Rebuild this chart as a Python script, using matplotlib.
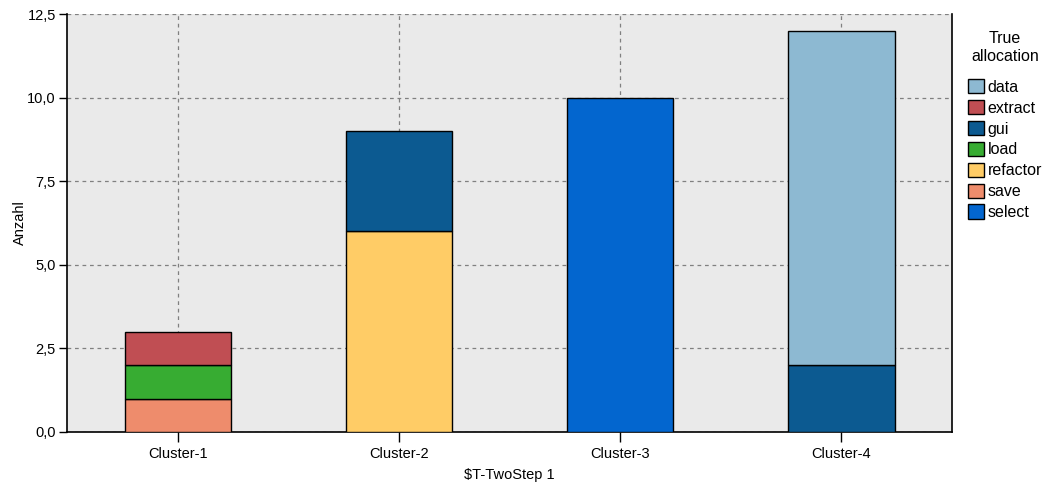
import matplotlib
matplotlib.use("Agg")
import matplotlib.pyplot as plt
from matplotlib.patches import Patch
from matplotlib.ticker import FixedLocator, FuncFormatter
import numpy as np

plt.rcParams['font.family'] = ['Liberation Sans', 'DejaVu Sans']

clusters = ["Cluster-1", "Cluster-2", "Cluster-3", "Cluster-4"]
allocations = ["data", "extract", "gui", "load", "refactor", "save", "select"]
colors = {
    "data": "#8DB9D2",
    "extract": "#C04E53",
    "gui": "#0C5A91",
    "load": "#37AC32",
    "refactor": "#FFCC66",
    "save": "#EE8C6C",
    "select": "#0366CF",
}
counts = {
    "data":     [0, 0, 0, 10],
    "extract":  [1, 0, 0, 0],
    "gui":      [0, 3, 0, 2],
    "load":     [1, 0, 0, 0],
    "refactor": [0, 6, 0, 0],
    "save":     [1, 0, 0, 0],
    "select":   [0, 0, 10, 0],
}
y_ticks = [0.0, 2.5, 5.0, 7.5, 10.0, 12.5]

fig = plt.figure(figsize=(10.5, 4.83), dpi=100)
ax = fig.add_axes([0.0638, 0.1056, 0.8429, 0.8654])
ax.set_facecolor("#EAEAEA")

x = np.arange(len(clusters))
bottom = np.zeros(len(clusters))
# stack from the last category upward
for name in reversed(allocations):
    vals = np.array(counts[name], dtype=float)
    mask = vals > 0
    ax.bar(x[mask], vals[mask], width=0.48, bottom=bottom[mask],
           color=colors[name], edgecolor="black", linewidth=1.0, zorder=3)
    bottom += vals

ax.set_xlim(-0.5, 3.5)
ax.set_ylim(0, 12.5)
ax.set_xticks(x)
ax.set_xticklabels(clusters)
ax.yaxis.set_major_locator(FixedLocator(y_ticks))
ax.yaxis.set_major_formatter(FuncFormatter(lambda v, p: f"{v:.1f}".replace(".", ",")))

ax.grid(True, axis="both", color="#808080", linestyle=(0, (3, 3)), linewidth=0.9, zorder=1)
ax.set_axisbelow(True)

for side in ["left", "bottom", "right"]:
    ax.spines[side].set_color("black")
    ax.spines[side].set_linewidth(1.2)
ax.spines["top"].set_visible(False)

ax.tick_params(axis="x", labelsize=10.5, color="black", length=7, width=1, pad=4)
ax.tick_params(axis="y", labelsize=10.5, color="black", length=6, width=1, pad=2)
ax.set_xlabel("\\$T-TwoStep 1", fontsize=10.5, labelpad=5)
ax.set_ylabel("Anzahl", fontsize=10.5, labelpad=0)

handles = [Patch(facecolor=colors[n], edgecolor="black", linewidth=1.0, label=n) for n in allocations]
leg = fig.legend(handles=handles, title="True\nallocation", loc="upper left",
                 bbox_to_anchor=(0.911, 0.958), frameon=False, fontsize=11.5,
                 title_fontsize=11.5, handlelength=1.0, handleheight=1.0,
                 handletextpad=0.25, labelspacing=0.33, borderpad=0.2)
leg.get_title().set_multialignment("center")
leg._legend_box.sep = 11

fig.savefig("out.png", dpi=100)
